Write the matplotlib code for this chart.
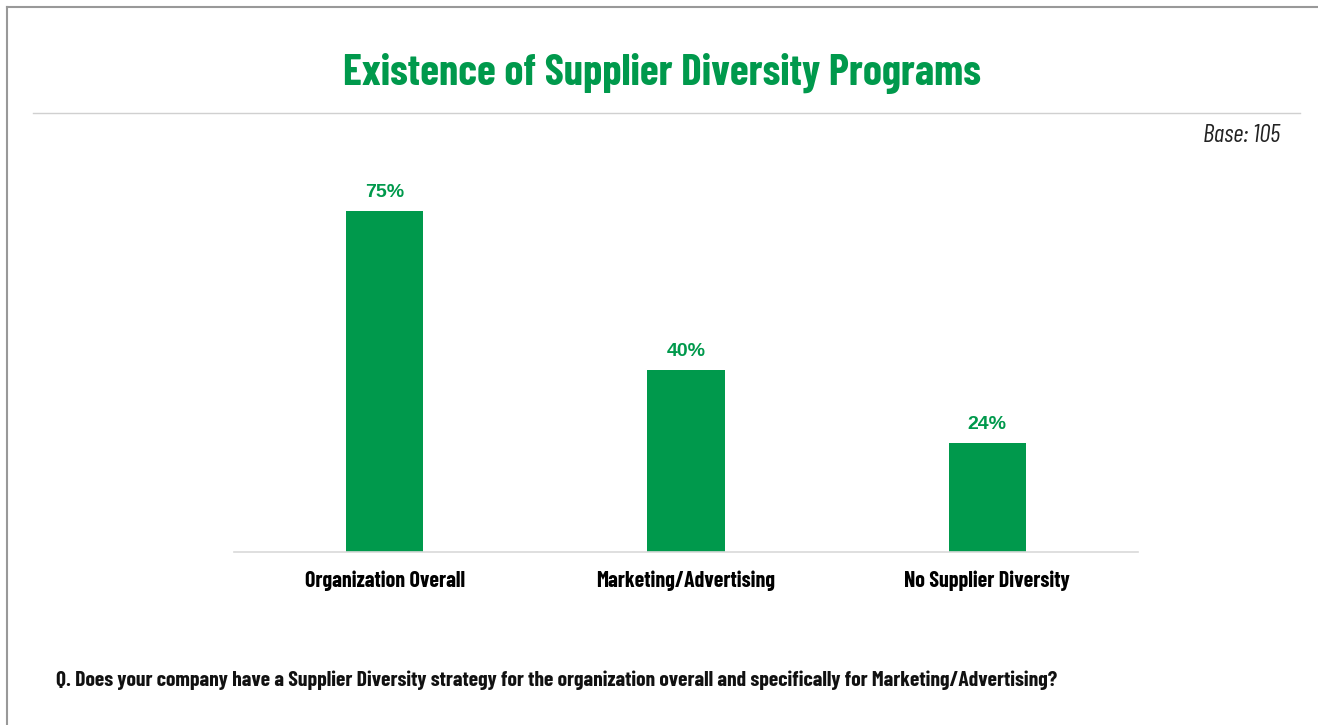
import matplotlib.pyplot as plt
from matplotlib import font_manager
from matplotlib.lines import Line2D

categories = ["Organization Overall", "Marketing/Advertising", "No Supplier Diversity"]
values = [75, 40, 24]
value_labels = ["75%", "40%", "24%"]

title = "Existence of Supplier Diversity Programs"
base_note = "Base: 105"
question = ("Q. Does your company have a Supplier Diversity strategy for the "
            "organization overall and specifically for Marketing/Advertising?")

GREEN = "#00994C"


def font_file(fname, **fallback):
    # condensed faces are looked up by file, else a plain sans
    for f in font_manager.fontManager.ttflist:
        if f.fname.endswith(fname):
            return font_manager.FontProperties(fname=f.fname), True
    return font_manager.FontProperties(family=["Liberation Sans", "DejaVu Sans"], **fallback), False


bold_cond, found = font_file("BarlowCondensed-Bold.ttf", weight="bold")
ital_cond, _ = font_file("BarlowCondensed-Italic.ttf", style="italic")
scale = 1.0 if found else 0.86


def prop(base, size):
    p = base.copy()
    p.set_size(size * scale)
    return p


W, H = 1318, 725
fig = plt.figure(figsize=(W / 100, H / 100), dpi=100)
fig.patch.set_facecolor("white")

# axes: x 234..1138 px, baseline at y=552, 4.55 px per percent
ymax = 80
ax = fig.add_axes([234 / W, (H - 552) / H, 904 / W, ymax * 4.55 / H])
ax.bar(range(len(values)), values, width=0.256, color=GREEN)
ax.set_xlim(-0.5, 2.5)
ax.set_ylim(0, ymax)
for s in ["top", "right", "left"]:
    ax.spines[s].set_visible(False)
ax.spines["bottom"].set_color("#d9d9d9")
ax.spines["bottom"].set_linewidth(1.2)
ax.set_yticks([])
ax.set_xticks(range(len(categories)))
ax.set_xticklabels(categories, fontproperties=prop(bold_cond, 15.8))
ax.tick_params(axis="x", length=0, pad=13)

for i, (v, lab) in enumerate(zip(values, value_labels)):
    ax.annotate(lab, (i, v), xytext=(0, 7), textcoords="offset points",
                ha="center", va="bottom", color=GREEN, fontsize=14,
                fontweight="bold", family=["Liberation Sans", "DejaVu Sans"])

fig.text(662 / W, 1 - 73 / H, title, ha="center", va="center", color=GREEN,
         fontproperties=prop(bold_cond, 31))
fig.add_artist(Line2D([33 / W, 1300 / W], [1 - 113 / H] * 2, color="#d0d0d0", lw=1))
fig.text(1280 / W, 1 - 136 / H, base_note, ha="right", va="center",
         fontproperties=prop(ital_cond, 18), color="#222222")
fig.text(56 / W, 1 - 680 / H, question, ha="left", va="center",
         fontproperties=prop(bold_cond, 15.5), color="#111111")

# page border (top and left)
fig.add_artist(Line2D([7 / W, 1.0], [1 - 7 / H] * 2, color="#999999", lw=1.5))
fig.add_artist(Line2D([7 / W] * 2, [0, 1 - 7 / H], color="#999999", lw=1.5))

fig.savefig("out.png", dpi=100, facecolor="white")
